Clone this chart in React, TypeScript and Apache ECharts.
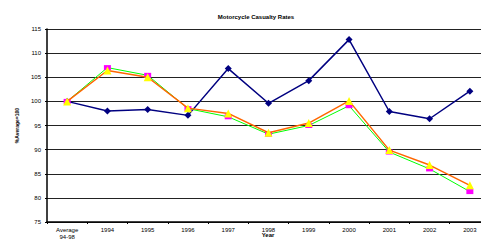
import React, { useEffect, useRef } from "react";
import * as echarts from "echarts";

const categories = ["Average\n94-98", "1994", "1995", "1996", "1997", "1998", "1999", "2000", "2001", "2002", "2003"];
const seriesNavy = [100, 98.0, 98.3, 97.1, 106.8, 99.6, 104.3, 112.8, 97.9, 96.4, 102.1];
const seriesGreen = [100, 107.0, 105.4, 98.5, 96.8, 93.2, 95.0, 99.1, 89.5, 86.0, 81.3];
const seriesOrange = [100, 106.4, 105.0, 98.6, 97.5, 93.5, 95.5, 100.1, 89.9, 86.8, 82.6];
const yTicks = { min: 75, max: 115, interval: 5 };
const xAxisTitle = "Year";

const FONT = "Liberation Sans, Arial, sans-serif";

export default function App() {
  const ref = useRef<HTMLDivElement>(null);
  useEffect(() => {
    document.body.style.margin = "0";
    document.body.style.overflow = "hidden";
    const chart = echarts.init(ref.current!, null, { renderer: "svg" });
    chart.setOption({
      animation: false,
      backgroundColor: "#ffffff",
      title: {
        text: "Motorcycle Casualty Rates",
        left: 251,
        textAlign: "center",
        top: 9,
        textStyle: { fontSize: 6, fontWeight: "bold", color: "#000", fontFamily: FONT },
      },
      graphic: [
        {
          type: "text",
          x: 268,
          y: 235,
          style: {
            text: xAxisTitle,
            fontSize: 6,
            fontWeight: "bold",
            fill: "#000",
            fontFamily: FONT,
            align: "center",
            verticalAlign: "middle",
          },
        },
      ],
      grid: {
        left: 47,
        top: 29,
        width: 443,
        height: 193,
        containLabel: false,
        outerBoundsMode: "none",
      },
      xAxis: {
        type: "category",
        data: categories,
        boundaryGap: true,
        axisLine: { lineStyle: { color: "#000", width: 1.5 } },
        axisTick: { show: true, length: 2, lineStyle: { color: "#000" }, alignWithLabel: false },
        axisLabel: { fontSize: 6, color: "#000", fontFamily: FONT, margin: 4, interval: 0, lineHeight: 7, hideOverlap: false },
        splitLine: { show: false },
      },
      yAxis: {
        type: "value",
        min: yTicks.min,
        max: yTicks.max,
        interval: yTicks.interval,
        name: "%Average=100",
        nameLocation: "middle",
        nameGap: 28,
        nameRotate: 90,
        nameTextStyle: { fontSize: 5, fontWeight: "bold", color: "#000", fontFamily: FONT },
        axisLine: { show: true, lineStyle: { color: "#000", width: 1.5 } },
        axisTick: { show: true, length: 2, lineStyle: { color: "#000" } },
        axisLabel: { fontSize: 6, color: "#000", fontFamily: FONT, margin: 6 },
        splitLine: { show: true, lineStyle: { color: "#222", width: 1 } },
      },
      series: [
        {
          type: "line",
          data: seriesNavy,
          symbol: "diamond",
          symbolSize: 7,
          lineStyle: { color: "#000080", width: 1.5 },
          itemStyle: { color: "#000080" },
          z: 3,
        },
        {
          type: "line",
          data: seriesGreen,
          symbol: "rect",
          symbolSize: [7, 5],
          lineStyle: { color: "#00ff00", width: 1 },
          itemStyle: { color: "#ff00ff" },
          z: 4,
        },
        {
          type: "line",
          data: seriesOrange,
          symbol: "triangle",
          symbolSize: 8,
          lineStyle: { color: "#ff6600", width: 1.5 },
          itemStyle: { color: "#ffff00" },
          z: 5,
        },
      ],
    });
    return () => chart.dispose();
  }, []);
  return <div ref={ref} style={{ width: 481, height: 240 }} />;
}
